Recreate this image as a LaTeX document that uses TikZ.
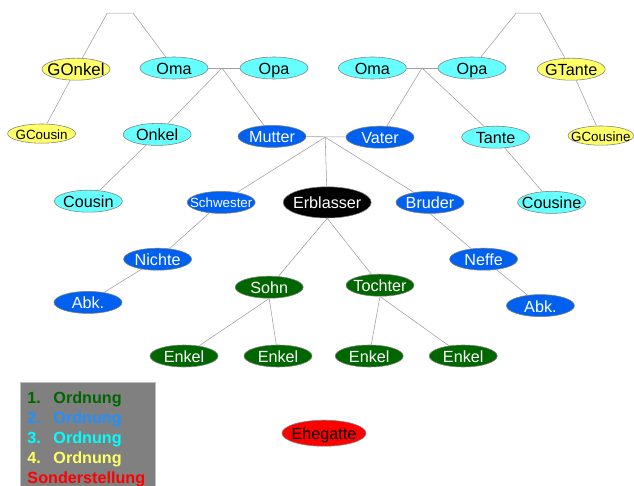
\documentclass[tikz,border=0pt]{standalone}
\usepackage{fontspec}
\setmainfont{Liberation Sans}
\usepackage{tikz}
\usetikzlibrary{shapes.geometric}

\definecolor{ordgreen}{HTML}{006600}
\definecolor{ordblue}{HTML}{0060F0}
\definecolor{ordcyan}{HTML}{66FFFF}
\definecolor{ordyellow}{HTML}{FFFF66}
\definecolor{sonderred}{HTML}{FF0000}
\definecolor{leg2blue}{HTML}{1E90FF}
\definecolor{leg3cyan}{HTML}{00FFFF}
\definecolor{leggray}{HTML}{808080}
\definecolor{linegray}{HTML}{A0A0A0}
\definecolor{rimgray}{HTML}{808080}

\newcommand{\lbl}[1]{\makebox[0pt]{#1}}

\tikzset{
    person/.style={ellipse, draw=rimgray, thin, inner sep=0pt, minimum width=1.70cm, minimum height=0.55cm, text height=9.8pt, text depth=0.5pt, font=\fontsize{11.5}{13}\selectfont},
    ordA/.style={person, fill=ordgreen, text=white},
    ordB/.style={person, fill=ordblue, text=white},
    ordC/.style={person, fill=ordcyan, text=black},
    ordD/.style={person, fill=ordyellow, text=black},
    sonder/.style={person, fill=sonderred, text=black},
    erbl/.style={person, fill=black, text=white},
    smalltext/.style={font=\fontsize{9.5}{11}\selectfont, text height=8.2pt, text depth=0.5pt},
    link/.style={draw=linegray, thin, solid}
}

\begin{document}
\begin{tikzpicture}
            \useasboundingbox (0.00,0.00) rectangle (15.85,-12.125);
            \node[ordD, font=\fontsize{12}{13}\selectfont] (gonkel) at (1.90,-1.73) {\lbl{GOnkel}};
            \node[ordC] (omaL) at (4.35,-1.70) {\lbl{Oma}};
            \node[ordC] (opaL) at (6.85,-1.70) {\lbl{Opa}};
            \node[ordC] (omaR) at (9.31,-1.70) {\lbl{Oma}};
            \node[ordC] (opaR) at (11.80,-1.70) {\lbl{Opa}};
            \node[ordD] (gtante) at (14.28,-1.73) {\lbl{GTante}};
            \node[ordD, smalltext, minimum height=0.48cm] (gcousin) at (1.04,-3.34) {\lbl{GCousin}};
            \node[ordC] (onkel) at (3.93,-3.36) {\lbl{Onkel}};
            \node[ordB] (mutter) at (6.80,-3.41) {\lbl{Mutter}};
            \node[ordB] (vater) at (9.50,-3.43) {\lbl{Vater}};
            \node[ordC] (tante) at (12.39,-3.43) {\lbl{Tante}};
            \node[ordD, smalltext, minimum width=1.64cm, minimum height=0.48cm] (gcousine) at (15.02,-3.39) {\lbl{GCousine}};
            \node[ordC] (cousin) at (2.21,-5.03) {\lbl{Cousin}};
            \node[ordB, smalltext] (schwester) at (5.53,-5.06) {\lbl{Schwester}};
            \node[erbl, minimum width=2.20cm, minimum height=0.78cm] (erblasser) at (8.18,-5.06) {\lbl{Erblasser}};
            \node[ordB] (bruder) at (10.75,-5.06) {\lbl{Bruder}};
            \node[ordC] (cousine) at (13.79,-5.06) {\lbl{Cousine}};
            \node[ordB] (nichte) at (3.94,-6.48) {\lbl{Nichte}};
            \node[ordB] (neffe) at (12.09,-6.48) {\lbl{Neffe}};
            \node[ordB] (abkL) at (2.20,-7.56) {\lbl{Abk.}};
            \node[ordB] (abkR) at (13.51,-7.64) {\lbl{Abk.}};
            \node[ordA] (sohn) at (6.73,-7.18) {\lbl{Sohn}};
            \node[ordA] (tochter) at (9.50,-7.13) {\lbl{Tochter}};
            \node[ordA] (enkelA) at (4.60,-8.90) {\lbl{Enkel}};
            \node[ordA] (enkelB) at (6.95,-8.90) {\lbl{Enkel}};
            \node[ordA] (enkelC) at (9.23,-8.90) {\lbl{Enkel}};
            \node[ordA] (enkelD) at (11.58,-8.90) {\lbl{Enkel}};
            \node[sonder, minimum width=2.10cm, minimum height=0.65cm] (ehegatte) at (8.10,-10.83) {\lbl{Ehegatte}};
            \coordinate (jL) at (5.55,-1.70);
            \coordinate (jR) at (10.55,-1.70);
            \coordinate (jM) at (8.13,-3.43);
            \coordinate (bL1) at (2.68,-0.33);
            \coordinate (bL2) at (3.33,-0.33);
            \coordinate (bR1) at (12.90,-0.33);
            \coordinate (bR2) at (13.50,-0.33);
            \draw[link] (gonkel) -- (bL1) -- (bL2) -- (omaL);
            \draw[link] (opaR) -- (bR1) -- (bR2) -- (gtante);
            \draw[link] (omaL) -- (opaL);
            \draw[link] (omaR) -- (opaR);
            \draw[link] (mutter) -- (vater);
            \draw[link] (jL) -- (onkel);
            \draw[link] (jL) -- (mutter);
            \draw[link] (jR) -- (vater);
            \draw[link] (jR) -- (tante);
            \draw[link] (jM) -- (erblasser);
            \draw[link] (jM) -- (schwester);
            \draw[link] (jM) -- (bruder);
            \draw[link] (gonkel) -- (gcousin);
            \draw[link] (gtante) -- (gcousine);
            \draw[link] (onkel) -- (cousin);
            \draw[link] (tante) -- (cousine);
            \draw[link] (schwester) -- (nichte);
            \draw[link] (nichte) -- (abkL);
            \draw[link] (bruder.south) -- (neffe);
            \draw[link] (neffe) -- (abkR);
            \draw[link] (erblasser.south) -- (sohn);
            \draw[link] (erblasser.south) -- (tochter);
            \draw[link] (sohn.south) -- (enkelA);
            \draw[link] (sohn.south) -- (enkelB);
            \draw[link] (tochter.south) -- (enkelC);
            \draw[link] (tochter.south) -- (enkelD);
            \draw[draw=linegray!70, fill=leggray, thin, solid] (0.50,-9.55) rectangle (3.88,-12.16);
            \node[anchor=north west, align=left, inner sep=0pt, font=\fontsize{11.5}{14.2}\selectfont\bfseries] (legend) at (0.68,-9.78) {%
                \textcolor{ordgreen}{\makebox[0.65cm][l]{1.}Ordnung}\\
                \textcolor{leg2blue}{\makebox[0.65cm][l]{2.}Ordnung}\\
                \textcolor{leg3cyan}{\makebox[0.65cm][l]{3.}Ordnung}\\
                \textcolor{ordyellow}{\makebox[0.65cm][l]{4.}Ordnung}\\
                \textcolor{sonderred}{Sonderstellung}};
        \end{tikzpicture}
\end{document}
